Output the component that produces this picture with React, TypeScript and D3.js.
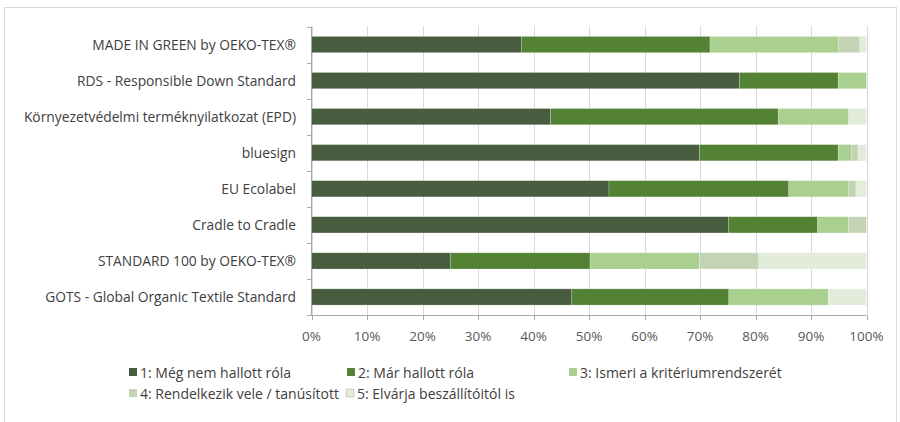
import React from "react";
import * as d3 from "d3";

const categories = [
  "MADE IN GREEN by OEKO-TEX®",
  "RDS - Responsible Down Standard",
  "Környezetvédelmi terméknyilatkozat (EPD)",
  "bluesign",
  "EU Ecolabel",
  "Cradle to Cradle",
  "STANDARD 100 by OEKO-TEX®",
  "GOTS - Global Organic Textile Standard",
];

const seriesNames = [
  "1: Még nem hallott róla",
  "2: Már hallott róla",
  "3: Ismeri a kritériumrendszerét",
  "4: Rendelkezik vele / tanúsított",
  "5: Elvárja beszállítóitól is",
];

const s1 = [37.8, 77.1, 43.1, 69.9, 53.6, 75.1, 25.0, 46.9];
const s2 = [34.0, 17.8, 41.0, 25.0, 32.4, 16.1, 25.2, 28.3];
const s3 = [23.1, 5.1, 12.7, 2.4, 10.8, 5.6, 19.7, 17.9];
const s4 = [3.9, 0, 0, 1.2, 1.3, 3.2, 10.7, 0];
const s5 = [1.2, 0, 3.2, 1.5, 1.9, 0, 19.4, 6.9];

const xTicks = [0, 10, 20, 30, 40, 50, 60, 70, 80, 90, 100];

const colors = ["#485d40", "#548235", "#a9d08e", "#c2d4b3", "#e3ebdb"];

const W = 900;
const H = 422;
const FONT = "'Open Sans', sans-serif";

export default function App() {
  const rows = categories.map((c, i) => ({
    cat: c,
    k0: s1[i],
    k1: s2[i],
    k2: s3[i],
    k3: s4[i],
    k4: s5[i],
  }));
  const keys = ["k0", "k1", "k2", "k3", "k4"];
  const stacked = d3.stack<any>().keys(keys)(rows);

  const x = d3.scaleLinear().domain([0, 100]).range([311.5, 866.5]);
  const y = d3
    .scaleBand<string>()
    .domain(categories)
    .range([26.5, 315])
    .paddingInner(0.55)
    .paddingOuter(0.275);

  const step = y.step();
  const top = 26.5;
  const bottom = 315;

  // legend layout: two rows
  const legendPos = [
    { x: 133, y: 372 },
    { x: 351, y: 372 },
    { x: 573, y: 372 },
    { x: 133, y: 393 },
    { x: 350, y: 393 },
  ];

  return (
    <svg
      width={W}
      height={H}
      style={{ position: "absolute", left: 0, top: 0, background: "#fff" }}
      fontFamily={FONT}
    >
      <rect x={4.5} y={7.5} width={892} height={430} fill="#fff" stroke="#d9d9d9" />

      {/* gridlines */}
      {xTicks.map((t) => (
        <line
          key={"g" + t}
          x1={Math.round(x(t)) + 0.5}
          x2={Math.round(x(t)) + 0.5}
          y1={top}
          y2={bottom}
          stroke="#d9d9d9"
        />
      ))}

      {/* bars */}
      {stacked.map((layer, li) => (
        <g key={layer.key} fill={colors[li]}>
          {layer.map((d, i) =>
            d[1] - d[0] > 0 ? (
              <rect
                key={i}
                x={x(d[0])}
                y={y(categories[i])!}
                width={x(d[1]) - x(d[0])}
                height={y.bandwidth()}
                stroke="#ffffff"
                strokeOpacity={0.35}
                strokeWidth={0.6}
              />
            ) : null
          )}
        </g>
      ))}

      {/* y axis */}
      <line x1={311.5} x2={311.5} y1={top} y2={bottom} stroke="#a6a6a6" />
      {d3.range(categories.length + 1).map((i) => (
        <line
          key={"yt" + i}
          x1={307}
          x2={311.5}
          y1={Math.round(top + i * step) + 0.5}
          y2={Math.round(top + i * step) + 0.5}
          stroke="#a6a6a6"
        />
      ))}
      {categories.map((c) => (
        <text
          key={c}
          x={296}
          y={y(c)! + y.bandwidth() / 2}
          textAnchor="end"
          dominantBaseline="central"
          fontSize={13.8}
          fill="#404040"
        >
          {c}
        </text>
      ))}

      {/* x axis */}
      <line x1={311.5} x2={866.5} y1={315.5} y2={315.5} stroke="#a6a6a6" />
      {xTicks.map((t) => (
        <g key={"xt" + t}>
          <line
            x1={Math.round(x(t)) + 0.5}
            x2={Math.round(x(t)) + 0.5}
            y1={315.5}
            y2={320}
            stroke="#a6a6a6"
          />
          <text
            x={x(t)}
            y={336}
            textAnchor="middle"
            dominantBaseline="central"
            fontSize={13.5}
            fill="#595959"
          >
            {t + "%"}
          </text>
        </g>
      ))}

      {/* legend */}
      {seriesNames.map((n, i) => (
        <g key={n}>
          <rect
            x={legendPos[i].x - 4}
            y={legendPos[i].y - 4}
            width={8}
            height={8}
            fill={colors[i]}
            stroke={i === 4 ? "#bfbfbf" : "none"}
            strokeWidth={0.7}
          />
          <text
            x={legendPos[i].x + 7}
            y={legendPos[i].y}
            dominantBaseline="central"
            fontSize={14}
            fill="#404040"
          >
            {n}
          </text>
        </g>
      ))}
    </svg>
  );
}
